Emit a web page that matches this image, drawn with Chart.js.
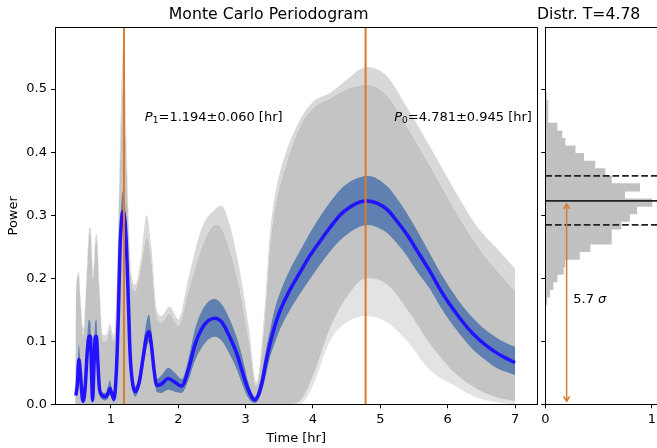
<!DOCTYPE html>
<html>
<head>
<meta charset="utf-8">
<script src="https://cdn.jsdelivr.net/npm/chart.js@4.4.1/dist/chart.umd.min.js"></script>
<style>
  html, body { margin: 0; padding: 0; background: #fff; }
  #wrap { position: relative; width: 657px; height: 448px; overflow: hidden; background: #fff; }
  #wrap canvas { position: absolute; top: 0; }
  #periodogram { left: 0; }
  #distr { left: 520px; }
</style>
</head>
<body>
<div id="wrap">
  <canvas id="periodogram" width="592" height="448"></canvas>
  <canvas id="distr" width="162" height="448"></canvas>
</div>
<script>
// mean periodogram (blue) and its 1-sigma band
var meanT = [0.48, 0.50, 0.525, 0.55, 0.575, 0.59, 0.62, 0.65, 0.675, 0.695,
  0.715, 0.728, 0.745, 0.765, 0.785, 0.805, 0.83, 0.87, 0.92, 0.96,
  0.985, 1.01, 1.045, 1.08, 1.11, 1.135, 1.16, 1.185, 1.21, 1.235,
  1.26, 1.285, 1.32, 1.36, 1.42, 1.48, 1.53, 1.565, 1.60, 1.64,
  1.68, 1.75, 1.85, 1.95, 2.05, 2.15, 2.25, 2.35, 2.45, 2.545,
  2.65, 2.75, 2.87, 2.95, 3.04, 3.137, 3.24, 3.30, 3.36, 3.43,
  3.51, 3.65, 3.80, 3.95, 4.10, 4.25, 4.40, 4.55, 4.70, 4.80,
  4.95, 5.11, 5.25, 5.39, 5.55, 5.73, 5.90, 6.08, 6.25, 6.375,
  6.55, 6.72, 6.85, 7.00];
var meanP = [0.014, 0.03, 0.071, 0.045, 0.01, 0.005, 0.03, 0.085, 0.108, 0.108,
  0.04, 0.006, 0.05, 0.105, 0.108, 0.07, 0.025, 0.014, 0.012, 0.018,
  0.025, 0.018, 0.008, 0.05, 0.14, 0.245, 0.295, 0.306, 0.29, 0.24,
  0.16, 0.08, 0.035, 0.02, 0.035, 0.075, 0.108, 0.115, 0.095, 0.055,
  0.03, 0.032, 0.041, 0.035, 0.029, 0.055, 0.095, 0.12, 0.133, 0.1365,
  0.13, 0.11, 0.08, 0.052, 0.023, 0.007, 0.033, 0.066, 0.095, 0.123,
  0.148, 0.180, 0.208, 0.235, 0.258, 0.28, 0.30, 0.313, 0.321, 0.3227,
  0.319, 0.308, 0.29, 0.27, 0.243, 0.212, 0.18, 0.151, 0.127, 0.112,
  0.095, 0.082, 0.074, 0.066];
var bandLo = [0.010, 0.02, 0.055, 0.035, 0.006, 0.002, 0.02, 0.07, 0.098, 0.098,
  0.03, 0.002, 0.04, 0.095, 0.098, 0.06, 0.018, 0.008, 0.006, 0.01,
  0.015, 0.01, 0.003, 0.04, 0.12, 0.22, 0.27, 0.285, 0.265, 0.215,
  0.14, 0.065, 0.025, 0.012, 0.025, 0.06, 0.09, 0.098, 0.08, 0.045,
  0.02, 0.018, 0.023, 0.02, 0.018, 0.038, 0.07, 0.09, 0.103, 0.107,
  0.10, 0.082, 0.055, 0.032, 0.01, 0.002, 0.02, 0.046, 0.074, 0.096,
  0.119, 0.148, 0.174, 0.198, 0.221, 0.242, 0.26, 0.273, 0.282, 0.2846,
  0.281, 0.271, 0.255, 0.236, 0.21, 0.184, 0.153, 0.125, 0.102, 0.087,
  0.071, 0.058, 0.052, 0.0465];
var bandHi = [0.018, 0.045, 0.095, 0.06, 0.015, 0.008, 0.042, 0.11, 0.134, 0.13,
  0.05, 0.01, 0.062, 0.128, 0.134, 0.085, 0.032, 0.02, 0.018, 0.03,
  0.038, 0.028, 0.012, 0.06, 0.16, 0.275, 0.325, 0.34, 0.32, 0.265,
  0.18, 0.095, 0.045, 0.028, 0.048, 0.095, 0.132, 0.142, 0.118, 0.07,
  0.04, 0.046, 0.058, 0.05, 0.04, 0.072, 0.12, 0.148, 0.163, 0.167,
  0.158, 0.138, 0.105, 0.075, 0.035, 0.012, 0.048, 0.086, 0.116, 0.15,
  0.177, 0.212, 0.242, 0.271, 0.297, 0.32, 0.34, 0.353, 0.36, 0.3624,
  0.358, 0.345, 0.326, 0.304, 0.275, 0.240, 0.207, 0.177, 0.152, 0.137,
  0.119, 0.106, 0.098, 0.0914];

// envelope of the Monte Carlo periodograms: dense core and sparse outliers
var cloudT = [0.47, 0.48, 0.50, 0.525, 0.55, 0.59, 0.64, 0.68, 0.70, 0.735,
  0.77, 0.79, 0.83, 0.88, 0.93, 0.985, 1.04, 1.08, 1.12, 1.16,
  1.19, 1.22, 1.26, 1.30, 1.36, 1.45, 1.53, 1.60, 1.68, 1.75,
  1.87, 2.00, 2.15, 2.35, 2.55, 2.64, 2.75, 2.90, 3.05, 3.16,
  3.28, 3.36, 3.45, 3.60, 3.80, 4.00, 4.25, 4.50, 4.80, 5.10,
  5.40, 5.73, 6.10, 6.45, 6.75, 7.00];
var cloudLo = [0, 0, 0, 0, 0, 0, 0, 0, 0, 0,
  0, 0, 0, 0, 0, 0, 0, 0, 0, 0,
  0, 0, 0, 0, 0, 0, 0, 0, 0, 0,
  0, 0, 0, 0, 0, 0, 0, 0, 0, 0,
  0, 0, 0, 0, 0.005, 0.045, 0.12, 0.17, 0.20, 0.19,
  0.15, 0.097, 0.05, 0.023, 0.01, 0.005];
var cloudHi = [0, 0.15, 0.20, 0.205, 0.16, 0.11, 0.20, 0.27, 0.27, 0.20,
  0.255, 0.26, 0.18, 0.10, 0.10, 0.12, 0.10, 0.16, 0.32, 0.47,
  0.52, 0.43, 0.29, 0.20, 0.18, 0.22, 0.265, 0.23, 0.14, 0.13,
  0.145, 0.125, 0.18, 0.25, 0.285, 0.28, 0.25, 0.19, 0.10, 0.03,
  0.13, 0.25, 0.32, 0.38, 0.44, 0.47, 0.485, 0.50, 0.507, 0.49,
  0.44, 0.38, 0.31, 0.25, 0.21, 0.18];
var cloudLoOuter = [0, 0, 0, 0, 0, 0, 0, 0, 0, 0,
  0, 0, 0, 0, 0, 0, 0, 0, 0, 0,
  0, 0, 0, 0, 0, 0, 0, 0, 0, 0,
  0, 0, 0, 0, 0, 0, 0, 0, 0, 0,
  0, 0, 0, 0, 0, 0.03, 0.10, 0.13, 0.14, 0.13,
  0.10, 0.055, 0.03, 0.01, 0.003, 0];
var cloudHiOuter = [0, 0.16, 0.205, 0.21, 0.17, 0.12, 0.21, 0.28, 0.28, 0.21,
  0.265, 0.27, 0.19, 0.11, 0.11, 0.128, 0.11, 0.17, 0.34, 0.52,
  0.57, 0.47, 0.31, 0.21, 0.19, 0.235, 0.30, 0.25, 0.15, 0.14,
  0.155, 0.135, 0.20, 0.28, 0.31, 0.315, 0.29, 0.22, 0.12, 0.035,
  0.15, 0.27, 0.34, 0.40, 0.45, 0.48, 0.494, 0.515, 0.535, 0.52,
  0.47, 0.41, 0.34, 0.28, 0.245, 0.215];

// detected periods [hr]
var periodP1 = 1.194, errP1 = 0.060;
var periodP0 = 4.781, errP0 = 0.945;

// distribution of the power at T = P0 (normalised counts per power bin)
var histPower = [0.488, 0.476, 0.464, 0.452, 0.440, 0.428, 0.416, 0.404, 0.392, 0.380,
  0.368, 0.356, 0.344, 0.332, 0.320, 0.308, 0.296, 0.284, 0.272, 0.260,
  0.248, 0.236, 0.224, 0.212, 0.200, 0.188, 0.176, 0.164];
var histCount = [0.01, 0.025, 0.025, 0.025, 0.11, 0.156, 0.185, 0.28, 0.36, 0.465,
  0.56, 0.62, 0.885, 0.745, 1.0, 0.857, 0.79, 0.71, 0.62, 0.62,
  0.42, 0.32, 0.185, 0.17, 0.11, 0.072, 0.04, 0.015];
var distMean = 0.3227, distLo = 0.2846, distHi = 0.3624;
var sigmaLevel = 5.7;

// axes
var timeTicks = [1, 2, 3, 4, 5, 6, 7];
var powerTicks = [0, 0.1, 0.2, 0.3, 0.4, 0.5];
var distTicks = [0, 1];
var timeMin = 0.17, timeMax = 7.33, powerMax = 0.598, distMax = 1.05;

var orange = '#dc7b2c';
var font = '"DejaVu Sans"';

Chart.defaults.font.family = 'DejaVu Sans';
Chart.defaults.font.size = 13;
Chart.defaults.color = '#000';
Chart.defaults.animation = false;
Chart.defaults.elements.point.radius = 0;
Chart.defaults.plugins.legend.display = false;
Chart.defaults.plugins.tooltip.enabled = false;

function pts(xs, ys) {
  return xs.map(function(x, i) { return {x: x, y: ys[i]}; });
}

function fixedTicks(values) {
  return function(scale) {
    scale.ticks = values.map(function(v) { return {value: v}; });
  };
}

function axis(values, fmt, extra) {
  var a = {
    type: 'linear',
    offset: false,
    grid: {drawOnChartArea: false, drawTicks: true, tickLength: 4, color: '#000', offset: false},
    border: {display: true, color: '#000', width: 1, z: 1},
    ticks: {autoSkip: false, maxRotation: 0, padding: 4, callback: fmt},
    afterBuildTicks: fixedTicks(values),
    z: 1
  };
  for (var k in extra) a[k] = extra[k];
  return a;
}

// matplotlib style box: top and right spines
var frame = {
  id: 'frame',
  afterDraw: function(chart) {
    var a = chart.chartArea, ctx = chart.ctx;
    var top = Math.round(a.top - 0.5) + 0.5, right = Math.round(a.right - 0.5) + 0.5;
    ctx.save();
    ctx.strokeStyle = '#000';
    ctx.lineWidth = 1;
    ctx.beginPath();
    ctx.moveTo(a.left, top);
    ctx.lineTo(right, top);
    ctx.lineTo(right, a.bottom);
    ctx.stroke();
    ctx.restore();
  }
};

// text made of pieces (italic symbol, subscript, plain)
function drawPieces(ctx, px, py, pieces, align) {
  var w = 0;
  pieces.forEach(function(p) {
    ctx.font = p.font;
    p.w = ctx.measureText(p.text).width;
    w += p.w;
  });
  var x = align === 'right' ? px - w : px;
  ctx.fillStyle = '#000';
  ctx.textBaseline = 'alphabetic';
  ctx.textAlign = 'left';
  pieces.forEach(function(p) {
    ctx.font = p.font;
    ctx.fillText(p.text, x, py + (p.dy || 0));
    x += p.w;
  });
}

function periodPieces(sub, value, err) {
  return [
    {text: 'P', font: 'italic 13px ' + font},
    {text: sub, font: '9.1px ' + font, dy: 2},
    {text: '=' + value.toFixed(3) + '\u00b1' + err.toFixed(3) + ' [hr]', font: '13px ' + font}
  ];
}

var periodLabels = {
  id: 'periodLabels',
  afterDatasetsDraw: function(chart) {
    var x = chart.scales.x, y = chart.scales.y, ctx = chart.ctx;
    ctx.save();
    drawPieces(ctx, x.getPixelForValue(1.504), y.getPixelForValue(0.449), periodPieces('1', periodP1, errP1), 'left');
    drawPieces(ctx, x.getPixelForValue(7.25), y.getPixelForValue(0.449), periodPieces('0', periodP0, errP0), 'right');
    ctx.restore();
  }
};

function boundary(data, order) {
  return {data: data, borderColor: 'transparent', borderWidth: 0, fill: false,
    cubicInterpolationMode: 'monotone', order: order};
}
function filledTo(data, color, order) {
  return {data: data, borderColor: 'transparent', borderWidth: 0, fill: '-1', backgroundColor: color,
    cubicInterpolationMode: 'monotone', order: order};
}

new Chart('periodogram', {
  type: 'line',
  data: {
    datasets: [
      boundary(pts(cloudT, cloudLoOuter), 9),
      filledTo(pts(cloudT, cloudLo), '#e3e3e3', 8),
      filledTo(pts(cloudT, cloudHi), '#c4c4c4', 7),
      filledTo(pts(cloudT, cloudHiOuter), '#d8d8d8', 6),
      boundary(pts(meanT, bandLo), 5),
      filledTo(pts(meanT, bandHi), '#5f80b0', 4),
      {
        data: pts(meanT, meanP),
        borderColor: '#2212ff',
        borderWidth: 3.5,
        fill: false,
        cubicInterpolationMode: 'monotone',
        order: 3
      },
      {
        data: [{x: periodP1, y: 0}, {x: periodP1, y: powerMax}],
        borderColor: orange, borderWidth: 2, fill: false, order: 2
      },
      {
        data: [{x: periodP0, y: 0}, {x: periodP0, y: powerMax}],
        borderColor: orange, borderWidth: 2, fill: false, order: 2
      }
    ]
  },
  options: {
    responsive: false,
    devicePixelRatio: 1,
    layout: {padding: {left: 0, right: 54.7, top: 0, bottom: 0}},
    plugins: {
      title: {
        display: true,
        text: 'Monte Carlo Periodogram',
        font: {size: 15.7, weight: 'normal'},
        color: '#000',
        padding: {top: 5.3, bottom: 3.2}
      }
    },
    scales: {
      x: axis(timeTicks, function(v) { return String(v); }, {
        min: timeMin, max: timeMax,
        title: {display: true, text: 'Time [hr]', font: {size: 13}, padding: {top: 0, bottom: 1.9}},
        afterFit: function(s) { s.height = 43.7; }
      }),
      y: axis(powerTicks, function(v) { return v.toFixed(1); }, {
        min: 0, max: powerMax,
        title: {display: true, text: 'Power', font: {size: 13}, padding: {top: 6.2, bottom: 0}},
        afterFit: function(s) { s.width = 55; }
      })
    }
  },
  plugins: [frame, periodLabels]
});

// arrow from the mean power down to zero, with the significance label
var sigmaArrow = {
  id: 'sigmaArrow',
  afterDatasetsDraw: function(chart) {
    var x = chart.scales.x, y = chart.scales.y, ctx = chart.ctx;
    var xa = x.getPixelForValue(0.2);
    var yt = y.getPixelForValue(distMean) + 3, yb = y.getPixelForValue(0) - 3;
    ctx.save();
    ctx.strokeStyle = orange;
    ctx.lineWidth = 1.5;
    ctx.beginPath();
    ctx.moveTo(xa, yt); ctx.lineTo(xa, yb);
    ctx.moveTo(xa - 3, yt + 5); ctx.lineTo(xa, yt); ctx.lineTo(xa + 3, yt + 5);
    ctx.moveTo(xa - 3, yb - 5); ctx.lineTo(xa, yb); ctx.lineTo(xa + 3, yb - 5);
    ctx.stroke();
    drawPieces(ctx, x.getPixelForValue(0.262), y.getPixelForValue(0.160), [
      {text: sigmaLevel.toFixed(1) + ' ', font: '13px ' + font},
      {text: '\u03c3', font: 'italic 13px ' + font}
    ], 'left');
    ctx.restore();
  }
};

function hline(v, dash) {
  return {
    type: 'line',
    data: [{x: 0, y: v}, {x: distMax, y: v}],
    borderColor: '#222',
    borderWidth: 1.8,
    borderDash: dash,
    fill: false,
    order: 1
  };
}

new Chart('distr', {
  type: 'bar',
  data: {
    datasets: [
      hline(distHi, [6.7, 2.9]),
      hline(distLo, [6.7, 2.9]),
      hline(distMean, []),
      {
        data: pts(histCount, histPower),
        backgroundColor: '#c0c0c0',
        borderWidth: 0,
        barPercentage: 1,
        categoryPercentage: 1,
        order: 5
      }
    ]
  },
  options: {
    responsive: false,
    devicePixelRatio: 1,
    indexAxis: 'y',
    layout: {padding: {left: 0, right: 24.7, top: 0, bottom: 0}},
    plugins: {
      title: {
        display: true,
        text: 'Distr. T=' + periodP0.toFixed(2),
        font: {size: 15.7, weight: 'normal'},
        color: '#000',
        padding: {top: 5.3, bottom: 3.2}
      }
    },
    scales: {
      x: axis(distTicks, function(v) { return String(v); }, {
        min: 0, max: distMax,
        afterFit: function(s) { s.height = 43.7; }
      }),
      y: axis(powerTicks, function() { return ''; }, {
        min: 0, max: powerMax,
        afterFit: function(s) { s.width = 25.3; }
      })
    }
  },
  plugins: [frame, sigmaArrow]
});
</script>
</body>
</html>
